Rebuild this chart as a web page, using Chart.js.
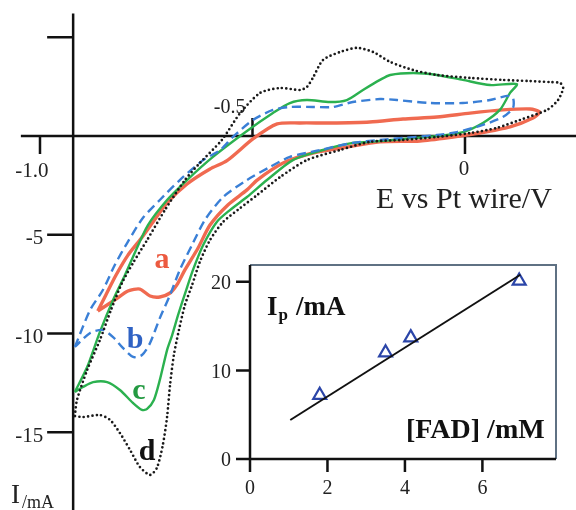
<!DOCTYPE html>
<html>
<head>
<meta charset="utf-8">
<script src="https://cdn.jsdelivr.net/npm/chart.js@4.4.0/dist/chart.umd.min.js"></script>
<style>
html, body { margin: 0; padding: 0; background: #fff; }
#wrap { position: relative; width: 576px; height: 510px; }
#main { position: absolute; left: 0; top: 0; }
#inset { position: absolute; left: 200px; top: 255px; }
</style>
</head>
<body>
<div id="wrap">
  <canvas id="main" width="576" height="510"></canvas>
  <canvas id="inset" width="376" height="255"></canvas>
</div>
<script>
// CV curves, [E (V vs Pt wire), I (mA)]
const curveA = [[-0.864,-8.86],[-0.845,-8.05],[-0.821,-7.04],[-0.793,-6.03],[-0.765,-5.27],[-0.734,-4.35],[-0.701,-3.39],[-0.654,-2.43],[-0.600,-1.67],[-0.560,-1.25],[-0.499,-0.15],[-0.442,0.61],[-0.388,0.66],[-0.318,0.66],[-0.224,0.71],[-0.146,0.86],[-0.066,0.96],[0.012,1.16],[0.089,1.32],[0.153,1.37],[0.176,1.22],[0.160,0.91],[0.106,0.46],[0.035,0.15],[-0.028,-0.05],[-0.106,-0.25],[-0.200,-0.30],[-0.278,-0.56],[-0.358,-0.86],[-0.428,-1.37],[-0.489,-2.23],[-0.513,-2.73],[-0.558,-3.49],[-0.600,-4.51],[-0.628,-5.67],[-0.659,-6.78],[-0.678,-7.54],[-0.694,-7.95],[-0.718,-8.15],[-0.741,-8.10],[-0.765,-7.75],[-0.793,-7.85],[-0.824,-8.30],[-0.864,-8.86]];
const curveB = [[-0.918,-10.68],[-0.882,-8.81],[-0.852,-7.80],[-0.824,-6.53],[-0.795,-5.42],[-0.758,-4.15],[-0.718,-3.24],[-0.671,-2.23],[-0.616,-1.22],[-0.576,-0.71],[-0.546,-0.05],[-0.499,0.81],[-0.452,1.32],[-0.412,1.47],[-0.358,1.47],[-0.311,1.47],[-0.264,1.72],[-0.200,1.87],[-0.160,1.82],[-0.082,1.67],[-0.005,1.67],[0.059,1.82],[0.099,2.03],[0.113,1.92],[0.113,1.42],[0.089,0.96],[0.042,0.56],[-0.019,0.20],[-0.066,0.05],[-0.146,-0.10],[-0.200,-0.20],[-0.264,-0.35],[-0.341,-0.71],[-0.412,-1.06],[-0.459,-1.57],[-0.513,-2.23],[-0.569,-3.09],[-0.612,-4.25],[-0.640,-5.42],[-0.671,-6.78],[-0.694,-8.05],[-0.718,-9.22],[-0.741,-10.48],[-0.760,-11.09],[-0.781,-11.19],[-0.805,-10.73],[-0.828,-10.18],[-0.852,-9.82],[-0.882,-9.97],[-0.918,-10.68]];
const curveC = [[-0.918,-12.96],[-0.889,-11.70],[-0.859,-9.92],[-0.828,-8.30],[-0.800,-7.04],[-0.776,-5.87],[-0.746,-4.51],[-0.701,-3.24],[-0.654,-2.23],[-0.593,-1.06],[-0.513,0.25],[-0.452,1.16],[-0.412,1.67],[-0.372,1.82],[-0.318,1.72],[-0.278,1.82],[-0.240,2.33],[-0.200,2.84],[-0.176,3.09],[-0.122,3.19],[-0.066,3.09],[-0.005,2.84],[0.059,2.58],[0.122,2.63],[0.106,2.18],[0.082,1.32],[0.042,0.66],[-0.005,0.20],[-0.066,0.00],[-0.146,-0.15],[-0.224,-0.30],[-0.264,-0.35],[-0.334,-0.71],[-0.405,-1.22],[-0.466,-2.23],[-0.513,-3.09],[-0.553,-3.75],[-0.584,-4.35],[-0.616,-5.52],[-0.640,-6.78],[-0.656,-7.80],[-0.675,-9.06],[-0.689,-10.08],[-0.701,-10.84],[-0.718,-12.35],[-0.732,-13.37],[-0.748,-13.82],[-0.760,-13.87],[-0.781,-13.52],[-0.812,-12.86],[-0.842,-12.46],[-0.875,-12.46],[-0.899,-12.71],[-0.918,-12.96]];
const curveD = [[-0.918,-14.18],[-0.913,-13.37],[-0.889,-11.85],[-0.859,-10.33],[-0.833,-8.81],[-0.807,-7.44],[-0.781,-6.43],[-0.748,-5.27],[-0.706,-3.75],[-0.659,-2.23],[-0.624,-1.37],[-0.572,-0.20],[-0.529,1.16],[-0.482,2.18],[-0.435,2.43],[-0.388,2.33],[-0.372,2.48],[-0.358,2.94],[-0.334,3.85],[-0.294,4.25],[-0.254,4.46],[-0.216,4.25],[-0.176,3.75],[-0.122,3.34],[-0.066,3.09],[0.012,2.94],[0.089,2.84],[0.153,2.78],[0.200,2.73],[0.224,2.68],[0.231,2.43],[0.219,1.82],[0.193,1.32],[0.129,0.81],[0.075,0.41],[0.012,0.15],[-0.066,-0.05],[-0.146,-0.20],[-0.224,-0.30],[-0.294,-0.71],[-0.372,-1.22],[-0.435,-2.08],[-0.489,-2.99],[-0.529,-3.65],[-0.569,-4.35],[-0.600,-5.27],[-0.624,-6.38],[-0.642,-7.54],[-0.659,-8.56],[-0.673,-9.82],[-0.685,-11.09],[-0.694,-12.61],[-0.701,-14.23],[-0.711,-15.65],[-0.725,-16.81],[-0.741,-17.16],[-0.765,-16.76],[-0.788,-15.90],[-0.812,-15.04],[-0.835,-14.38],[-0.859,-14.13],[-0.899,-14.23],[-0.918,-14.18]];

// main axes
const xTicks = [-1.0, -0.5, 0];
const xTickLabels = ['-1.0', '-0.5', '0'];
const yTicks = [5, -5, -10, -15];
const yTickLabels = ['', '-5', '-10', '-15'];
const yAxisAt = -0.922;

// inset: peak current vs FAD concentration
const fadConc = [1.8, 3.5, 4.15, 6.95];
const peakCurrent = [7.2, 12.0, 13.7, 20.1];
const fitConc = [1.04, 6.98];
const fitCurrent = [4.4, 20.8];
const insetXTicks = [0, 2, 4, 6];
const insetYTicks = [0, 10, 20];

const pts = arr => arr.map(p => ({x: p[0], y: p[1]}));
const serif = '"Liberation Serif", "DejaVu Serif", serif';

const mainAxes = {
  id: 'mainAxes',
  beforeDatasetsDraw(chart) {
    const {ctx, scales: {x, y}} = chart;
    const ax = x.getPixelForValue(yAxisAt);
    const ay = y.getPixelForValue(0);
    ctx.save();
    ctx.strokeStyle = '#111';
    ctx.lineWidth = 2.5;
    ctx.beginPath();
    ctx.moveTo(x.getPixelForValue(-1.045), ay);
    ctx.lineTo(chart.width, ay);
    ctx.moveTo(ax, y.getPixelForValue(6.2));
    ctx.lineTo(ax, chart.height);
    yTicks.forEach(v => {
      const p = y.getPixelForValue(v);
      ctx.moveTo(ax - 26, p);
      ctx.lineTo(ax, p);
    });
    xTicks.forEach(v => {
      const p = x.getPixelForValue(v);
      const dir = v === -0.5 ? -1 : 1;
      ctx.moveTo(p, ay);
      ctx.lineTo(p, ay + dir * 18);
    });
    ctx.stroke();
    ctx.restore();
  },
  afterDatasetsDraw(chart) {
    const {ctx, scales: {x, y}} = chart;
    const ax = x.getPixelForValue(yAxisAt);
    const ay = y.getPixelForValue(0);
    ctx.save();
    ctx.fillStyle = '#222';
    ctx.font = '21px ' + serif;
    ctx.textAlign = 'right';
    ctx.textBaseline = 'middle';
    yTicks.forEach((v, i) => {
      if (yTickLabels[i]) ctx.fillText(yTickLabels[i], ax - 30, y.getPixelForValue(v) + 4);
    });
    ctx.textBaseline = 'alphabetic';
    ctx.textAlign = 'center';
    ctx.fillText(xTickLabels[0], x.getPixelForValue(xTicks[0]) - 8, ay + 41);
    ctx.fillText(xTickLabels[2], x.getPixelForValue(xTicks[2]) - 1, ay + 39);
    ctx.font = '20px ' + serif;
    ctx.textAlign = 'right';
    ctx.fillText(xTickLabels[1], x.getPixelForValue(xTicks[1]) - 7, ay - 23);

    ctx.textAlign = 'left';
    ctx.font = '30px ' + serif;
    ctx.fillText('E vs Pt wire/V', 376, 208);
    ctx.font = '27px ' + serif;
    ctx.fillText('I', 11, 503);
    ctx.font = '18px ' + serif;
    ctx.fillText('/mA', 22, 508);

    // curve labels
    ctx.font = 'bold 30px ' + serif;
    ctx.textAlign = 'center';
    ctx.fillStyle = '#ec5a40';
    ctx.fillText('a', x.getPixelForValue(-0.713), y.getPixelForValue(-6.7));
    ctx.fillStyle = '#2f62c4';
    ctx.fillText('b', x.getPixelForValue(-0.776), y.getPixelForValue(-10.75));
    ctx.fillStyle = '#249a42';
    ctx.fillText('c', x.getPixelForValue(-0.767), y.getPixelForValue(-13.3));
    ctx.fillStyle = '#111';
    ctx.fillText('d', x.getPixelForValue(-0.748), y.getPixelForValue(-16.4));
    ctx.restore();
  }
};

new Chart(document.getElementById('main'), {
  type: 'scatter',
  data: {
    datasets: [
      { data: pts(curveD), showLine: true, borderColor: '#1a1a1a', borderWidth: 2.7,
        borderDash: [0, 4.4], borderCapStyle: 'round', pointRadius: 0, tension: 0.25 },
      { data: pts(curveB), showLine: true, borderColor: '#3a7fd6', borderWidth: 2.4,
        borderDash: [9, 5], pointRadius: 0, tension: 0.25 },
      { data: pts(curveC), showLine: true, borderColor: '#2bb14f', borderWidth: 2.4,
        pointRadius: 0, tension: 0.25 },
      { data: pts(curveA), showLine: true, borderColor: '#f06a50', borderWidth: 3.4,
        pointRadius: 0, tension: 0.25 }
    ]
  },
  options: {
    responsive: false,
    animation: false,
    devicePixelRatio: 1,
    layout: { padding: 0 },
    plugins: { legend: { display: false }, tooltip: { enabled: false } },
    scales: {
      x: { type: 'linear', display: false, min: -1.0941, max: 0.2612 },
      y: { type: 'linear', display: false, min: -18.937, max: 6.886 }
    }
  },
  plugins: [mainAxes]
});

const insetFrame = {
  id: 'insetFrame',
  beforeDatasetsDraw(chart) {
    const {ctx, chartArea: a, scales: {x, y}} = chart;
    ctx.save();
    ctx.fillStyle = '#fff';
    ctx.fillRect(a.left, a.top, a.right - a.left, a.bottom - a.top);
    ctx.strokeStyle = '#5f7183';
    ctx.lineWidth = 2;
    ctx.beginPath();
    ctx.moveTo(a.left, a.top);
    ctx.lineTo(a.right, a.top);
    ctx.lineTo(a.right, a.bottom);
    ctx.stroke();
    ctx.strokeStyle = '#111';
    ctx.lineWidth = 2.5;
    ctx.beginPath();
    ctx.moveTo(a.left, a.top);
    ctx.lineTo(a.left, a.bottom);
    ctx.lineTo(a.right, a.bottom);
    insetXTicks.forEach(v => {
      const p = x.getPixelForValue(v);
      ctx.moveTo(p, a.bottom);
      ctx.lineTo(p, a.bottom + 13);
    });
    insetYTicks.forEach(v => {
      const p = y.getPixelForValue(v);
      ctx.moveTo(a.left - 14, p);
      ctx.lineTo(a.left, p);
    });
    ctx.stroke();
    ctx.fillStyle = '#222';
    ctx.font = '20px ' + serif;
    ctx.textAlign = 'right';
    ctx.textBaseline = 'middle';
    insetYTicks.forEach(v => ctx.fillText(String(v), a.left - 19, y.getPixelForValue(v) + 2));
    ctx.textAlign = 'center';
    ctx.textBaseline = 'alphabetic';
    insetXTicks.forEach(v => ctx.fillText(String(v), x.getPixelForValue(v), a.bottom + 35));
    ctx.restore();
  },
  afterDatasetsDraw(chart) {
    const {ctx} = chart;
    ctx.save();
    ctx.fillStyle = '#111';
    ctx.textAlign = 'left';
    ctx.font = 'bold 27px ' + serif;
    ctx.fillText('I', 67, 60);
    const w = ctx.measureText('I').width;
    ctx.font = 'bold 17px ' + serif;
    ctx.fillText('p', 67 + w + 1, 65);
    ctx.font = 'bold 27px ' + serif;
    ctx.fillText('/mA', 96, 60);
    ctx.font = 'bold 28px ' + serif;
    ctx.fillText('[FAD] /mM', 206, 183);
    ctx.restore();
  }
};

new Chart(document.getElementById('inset'), {
  type: 'scatter',
  data: {
    datasets: [
      { data: fitConc.map((v, i) => ({x: v, y: fitCurrent[i]})), showLine: true,
        borderColor: '#111', borderWidth: 2, pointRadius: 0 },
      { data: fadConc.map((v, i) => ({x: v, y: peakCurrent[i]})), showLine: false,
        pointStyle: 'triangle', pointRadius: 7.5, borderWidth: 2.2,
        borderColor: '#2b45a8', backgroundColor: 'rgba(255,255,255,0)' }
    ]
  },
  options: {
    responsive: false,
    animation: false,
    devicePixelRatio: 1,
    layout: { padding: { left: 50, top: 10, right: 20, bottom: 51 } },
    plugins: { legend: { display: false }, tooltip: { enabled: false } },
    scales: {
      x: { type: 'linear', display: false, min: 0, max: 7.9 },
      y: { type: 'linear', display: false, min: 0, max: 21.9 }
    }
  },
  plugins: [insetFrame]
});
</script>
</body>
</html>
